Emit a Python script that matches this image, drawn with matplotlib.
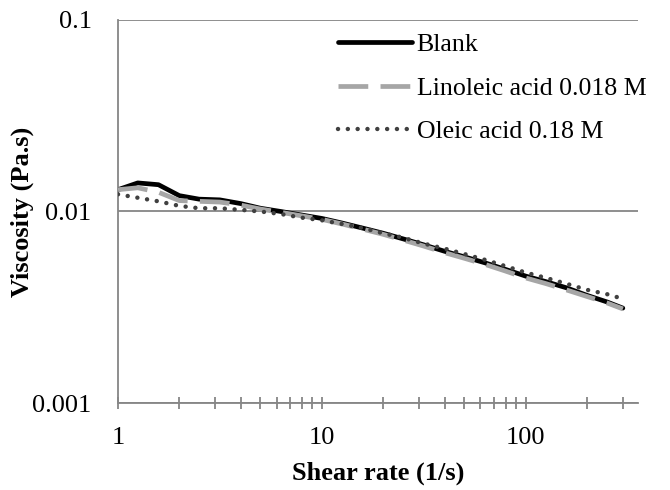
import matplotlib
matplotlib.use("Agg")
import matplotlib.pyplot as plt
from matplotlib.ticker import FixedLocator, FixedFormatter, NullFormatter, LogLocator

shear_rate = [1, 1.25, 1.58, 2, 2.5, 3.16, 4, 5, 6.3, 7.9, 10, 12.6, 15.8, 20, 25,
              31.6, 40, 50, 63, 79, 100, 126, 158, 200, 251, 300]
blank = [0.0130, 0.0141, 0.0138, 0.0121, 0.0116, 0.0115, 0.0110, 0.0104, 0.0100, 0.0096,
         0.0092, 0.0087, 0.0082, 0.0077, 0.0072, 0.0067, 0.0062, 0.0058, 0.0054, 0.0050,
         0.0046, 0.0043, 0.0040, 0.00365, 0.00337, 0.00313]
linoleic = [0.0130, 0.0133, 0.0126, 0.0114, 0.0113, 0.0112, 0.0108, 0.0103, 0.0099, 0.0095,
            0.0091, 0.0086, 0.0081, 0.0076, 0.0071, 0.0066, 0.0061, 0.0057, 0.0053, 0.0049,
            0.0045, 0.0042, 0.0039, 0.0036, 0.00333, 0.00310]
oleic = [0.0123, 0.0118, 0.0113, 0.0107, 0.0104, 0.0104, 0.0102, 0.0100, 0.0097, 0.0093,
         0.0090, 0.0086, 0.0082, 0.0077, 0.0073, 0.0068, 0.0064, 0.0060, 0.0056, 0.0052,
         0.0048, 0.0045, 0.0042, 0.0039, 0.0037, 0.00350]

x_ticks = [1, 10, 100]
x_labels = ["1", "10", "100"]
y_ticks = [0.001, 0.01, 0.1]
y_labels = ["0.001", "0.01", "0.1"]

plt.rcParams['font.family'] = ['Liberation Serif', 'DejaVu Serif']

W, H = 670, 490
fig = plt.figure(figsize=(6.7, 4.9), dpi=100)
ax = fig.add_axes([118/W, 1 - 403/H, (638-118)/W, (403-20)/H])

grid_c = '#868686'
ax.plot(shear_rate, blank, color='black', lw=3.4, solid_capstyle='round', label='Blank', zorder=3)
ax.plot(shear_rate, linoleic, color='#a6a6a6', lw=3.4, dashes=(6.3, 2.6), label='Linoleic acid 0.018 M', zorder=4)
ax.plot(shear_rate, oleic, color='#404040', lw=3.2, linestyle=(0, (0.01, 2.2)),
        dash_capstyle='round', label='Oleic acid 0.18 M', zorder=5)

ax.set_xscale('log')
ax.set_yscale('log')
ax.set_xlim(1, 356)
ax.set_ylim(0.001, 0.1)

ax.xaxis.set_major_locator(FixedLocator(x_ticks))
ax.xaxis.set_major_formatter(FixedFormatter(x_labels))
ax.xaxis.set_minor_locator(LogLocator(base=10, subs=range(2, 10), numticks=20))
ax.xaxis.set_minor_formatter(NullFormatter())
ax.yaxis.set_major_locator(FixedLocator(y_ticks))
ax.yaxis.set_major_formatter(FixedFormatter(y_labels))
ax.yaxis.set_minor_locator(FixedLocator([]))

for yv in y_ticks:
    ax.axhline(yv, color=grid_c, lw=1.3, zorder=1)

for s in ['top', 'right']:
    ax.spines[s].set_visible(False)
for s in ['left', 'bottom']:
    ax.spines[s].set_color(grid_c)
    ax.spines[s].set_linewidth(1.3)

ax.tick_params(axis='x', which='both', direction='inout', length=9, width=1.3,
               color=grid_c, labelsize=19, pad=13)
ax.tick_params(axis='y', which='both', length=0, labelsize=19, pad=19)

ax.set_xlabel('Shear rate (1/s)', fontsize=19, fontweight='bold', labelpad=9)
ax.set_ylabel('Viscosity (Pa.s)', fontsize=19, fontweight='bold', labelpad=-1)

leg = ax.legend(loc='upper left', bbox_to_anchor=(338/W, 1 - 33/H),
                bbox_transform=fig.transFigure, frameon=False,
                fontsize=18.6, handlelength=2.85, handletextpad=0.2, labelspacing=0.79,
                borderpad=0, borderaxespad=0)

fig.savefig('out.png', dpi=100)
